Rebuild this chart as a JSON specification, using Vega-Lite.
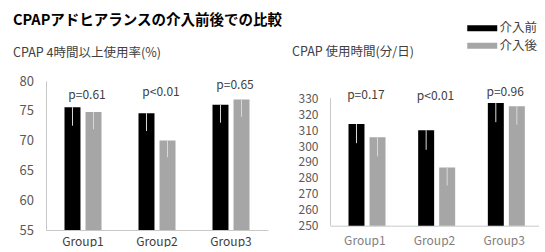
{
  "$schema": "https://vega.github.io/schema/vega-lite/v6.json",
  "padding": {"left": 13, "top": 13, "right": 0, "bottom": 0},
  "background": "white",
  "config": {
    "view": {"stroke": null},
    "font": "Noto Sans CJK JP",
    "axis": {"grid": false, "ticks": false, "tickSize": 0, "domainColor": "#c8c8c8", "labelFont": "Noto Sans CJK JP", "labelColor": "#595959", "labelOverlap": false, "title": null},
    "legend": {"labelFont": "Noto Sans CJK JP"}
  },
  "datasets": {
    "rate": [
      {"group": "Group1", "phase": "介入前", "value": 75.6, "lo": 72.5},
      {"group": "Group1", "phase": "介入後", "value": 74.8, "lo": 71.9},
      {"group": "Group2", "phase": "介入前", "value": 74.6, "lo": 71.6},
      {"group": "Group2", "phase": "介入後", "value": 70.0, "lo": 67.2},
      {"group": "Group3", "phase": "介入前", "value": 76.0, "lo": 73.0},
      {"group": "Group3", "phase": "介入後", "value": 76.9, "lo": 74.0}
    ],
    "rateP": [
      {"group": "Group1", "label": "p=0.61", "pos": 77.6},
      {"group": "Group2", "label": "p<0.01", "pos": 78.1},
      {"group": "Group3", "label": "p=0.65", "pos": 79.4}
    ],
    "time": [
      {"group": "Group1", "phase": "介入前", "value": 313.8, "lo": 301.8},
      {"group": "Group1", "phase": "介入後", "value": 305.5, "lo": 293.5},
      {"group": "Group2", "phase": "介入前", "value": 310.0, "lo": 297.7},
      {"group": "Group2", "phase": "介入後", "value": 286.5, "lo": 275.2},
      {"group": "Group3", "phase": "介入前", "value": 327.0, "lo": 315.0},
      {"group": "Group3", "phase": "介入後", "value": 325.0, "lo": 313.5}
    ],
    "timeP": [
      {"group": "Group1", "label": "p=0.17", "pos": 332.1},
      {"group": "Group2", "label": "p<0.01", "pos": 331.6},
      {"group": "Group3", "label": "p=0.96", "pos": 333.8}
    ],
    "axisRange": [
      {"lo": 250, "hi": 330}
    ]
  },
  "spacing": 9,
  "hconcat": [
    {
      "width": 222,
      "height": 149,
      "title": {"text": "CPAPアドヒアランスの介入前後での比較", "subtitle": "CPAP 4時間以上使用率(%)", "anchor": "start", "frame": "group", "dx": -33, "fontSize": 14.5, "fontWeight": "bold", "color": "#000000", "subtitleFont": "Noto Sans CJK JP", "subtitleFontSize": 12.5, "subtitleFontWeight": "normal", "subtitleColor": "#404040", "subtitlePadding": 18, "offset": 15},
      "layer": [
        {
          "data": {"name": "rate"},
          "mark": {"type": "bar", "clip": true},
          "encoding": {
            "x": {"field": "group", "type": "nominal", "scale": {"paddingInner": 0, "paddingOuter": 0}, "axis": {"labelAngle": 0, "labelFontSize": 12, "labelPadding": 6, "labelColor": "#404040"}},
            "xOffset": {"field": "phase", "type": "nominal", "sort": ["介入前", "介入後"], "scale": {"paddingInner": 0.24, "paddingOuter": 0.88}},
            "y": {"field": "value", "type": "quantitative", "scale": {"domain": [55, 80], "zero": false, "nice": false}, "axis": {"values": [55, 60, 65, 70, 75, 80], "tickCount": 30, "labelOverlap": false, "labelFontSize": 13, "labelPadding": 12.5}},
            "color": {"field": "phase", "type": "nominal", "scale": {"domain": ["介入前", "介入後"], "range": ["#000000", "#a6a6a6"]}, "legend": {"title": null, "orient": "none", "legendX": 430, "legendY": -59, "symbolType": "M-5,-1H5V1H-5Z", "symbolSize": 36, "symbolStrokeWidth": 0, "labelFontSize": 12.5, "labelColor": "#404040", "rowPadding": 4.5, "labelOffset": 11}}
          }
        },
        {
          "data": {"name": "rate"},
          "mark": {"type": "rule", "color": "#d9d9d9", "strokeWidth": 1},
          "encoding": {
            "x": {"field": "group", "type": "nominal"},
            "xOffset": {"field": "phase", "type": "nominal", "sort": ["介入前", "介入後"]},
            "y": {"field": "lo", "type": "quantitative"},
            "y2": {"field": "value"}
          }
        },
        {
          "data": {"name": "rateP"},
          "mark": {"type": "text", "fontSize": 12, "color": "#404040", "dx": 4},
          "encoding": {
            "x": {"field": "group", "type": "nominal"},
            "y": {"field": "pos", "type": "quantitative"},
            "text": {"field": "label"}
          }
        }
      ]
    },
    {
      "width": 209,
      "height": 144.7,
      "title": {"text": "CPAP 使用時間(分/日)", "anchor": "start", "frame": "group", "dx": -38, "fontSize": 12.5, "fontWeight": "normal", "color": "#404040", "offset": 23},
      "layer": [
        {
          "data": {"name": "time"},
          "mark": {"type": "bar", "clip": true},
          "encoding": {
            "x": {"field": "group", "type": "nominal", "scale": {"paddingInner": 0, "paddingOuter": 0}, "axis": {"labelAngle": 0, "labelFontSize": 12, "labelPadding": 10, "labelColor": "#7f7f7f"}},
            "xOffset": {"field": "phase", "type": "nominal", "sort": ["介入前", "介入後"], "scale": {"paddingInner": 0.25, "paddingOuter": 0.87}},
            "y": {"field": "value", "type": "quantitative", "scale": {"domain": [250, 340.86], "zero": false, "nice": false}, "axis": {"values": [250, 260, 270, 280, 290, 300, 310, 320, 330], "tickCount": 30, "labelOverlap": false, "domain": false, "labelFontSize": 12, "labelPadding": 12}},
            "color": {"field": "phase", "type": "nominal"}
          }
        },
        {
          "data": {"name": "time"},
          "mark": {"type": "rule", "color": "#d9d9d9", "strokeWidth": 1},
          "encoding": {
            "x": {"field": "group", "type": "nominal"},
            "xOffset": {"field": "phase", "type": "nominal", "sort": ["介入前", "介入後"]},
            "y": {"field": "lo", "type": "quantitative"},
            "y2": {"field": "value"}
          }
        },
        {
          "data": {"name": "axisRange"},
          "mark": {"type": "rule", "color": "#c8c8c8", "strokeWidth": 1},
          "encoding": {
            "x": {"value": 0.5},
            "y": {"field": "lo", "type": "quantitative"},
            "y2": {"field": "hi"}
          }
        },
        {
          "data": {"name": "timeP"},
          "mark": {"type": "text", "fontSize": 12, "color": "#404040", "dx": 1},
          "encoding": {
            "x": {"field": "group", "type": "nominal"},
            "y": {"field": "pos", "type": "quantitative"},
            "text": {"field": "label"}
          }
        }
      ]
    }
  ]
}
